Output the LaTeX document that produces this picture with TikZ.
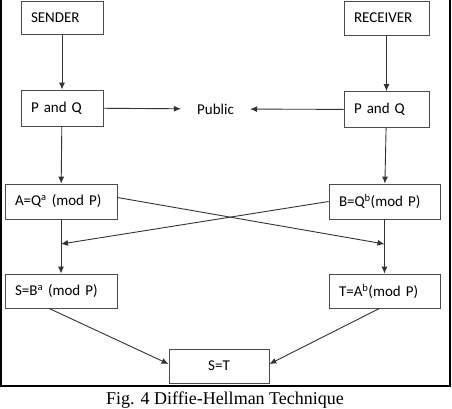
\documentclass[tikz,border=0pt]{standalone}
\usepackage{fontspec}
\usetikzlibrary{arrows.meta}
\setmainfont{Carlito}
\newfontfamily\capfont{Liberation Serif}
\begin{document}
\begin{tikzpicture}[x=1pt,y=-1pt,
    blk/.style={draw=black!70, line width=0.8pt, inner xsep=10pt, inner ysep=0pt, align=left, font=\fontsize{15}{17}\selectfont},
    arr/.style={-{Latex[length=7pt,width=6pt]}, line width=0.9pt, draw=black!80}]
    \useasboundingbox (0,0) rectangle (452,408);
    \draw[line width=1.4pt] (1,0) -- (1,386) -- (450,386) -- (450,0);
    \node[blk, text width=62pt, minimum height=33pt] (send) at (62,17.5) {SENDER};
    \node[blk, text width=65pt, minimum height=34pt] (recv) at (386.5,18) {RECEIVER};
    \node[blk, text width=62pt, minimum height=36pt] (pql) at (62,108) {P and Q};
    \node[blk, text width=65pt, minimum height=36pt] (pqr) at (386.5,109.5) {P and Q};
    \node[font=\fontsize{15}{17}\selectfont, inner xsep=16pt] (pub) at (215.5,109) {Public};
    \node[blk, text width=92pt, minimum height=35pt] (ka) at (61,201.5) {A=Q\textsuperscript{a} (mod P)};
    \node[blk, text width=91pt, minimum height=35pt] (kb) at (384.5,201.5) {B=Q\textsuperscript{b}(mod P)};
    \node[blk, text width=92pt, minimum height=34pt] (ks) at (61,291) {S=B\textsuperscript{a} (mod P)};
    \node[blk, text width=91pt, minimum height=34pt] (kt) at (384.5,291) {T=A\textsuperscript{b}(mod P)};
    \node[blk, text width=80pt, minimum height=34pt, align=center] (same) at (219,366) {S=T};
    \node[font=\capfont\fontsize{18}{20}\selectfont, anchor=base, inner sep=0pt] (cap) at (225,404) {Fig. 4 Diffie-Hellman Technique};
    \coordinate (ina) at (ka.south |- 0,244);
    \coordinate (inb) at (kb.south |- 0,244);
    \draw[arr] (send) -- (pql);
    \draw[arr] (recv) -- (pqr);
    \draw[arr] (pql) -- (pub);
    \draw[arr] (pqr) -- (pub);
    \draw[arr] (pql) -- (ka);
    \draw[arr] (pqr) -- (kb);
    \draw[arr] (ka) -- (ks);
    \draw[arr] (kb) -- (kt);
    \draw[arr] ([yshift=4pt]ka.east) -- (inb);
    \draw[arr] (kb.west) -- (ina);
    \draw[arr] ([xshift=-12pt]ks.south) -- ([yshift=2pt]same.west);
    \draw[arr] ([xshift=-5pt]kt.south) -- ([yshift=2pt]same.east);
\end{tikzpicture}
\end{document}
